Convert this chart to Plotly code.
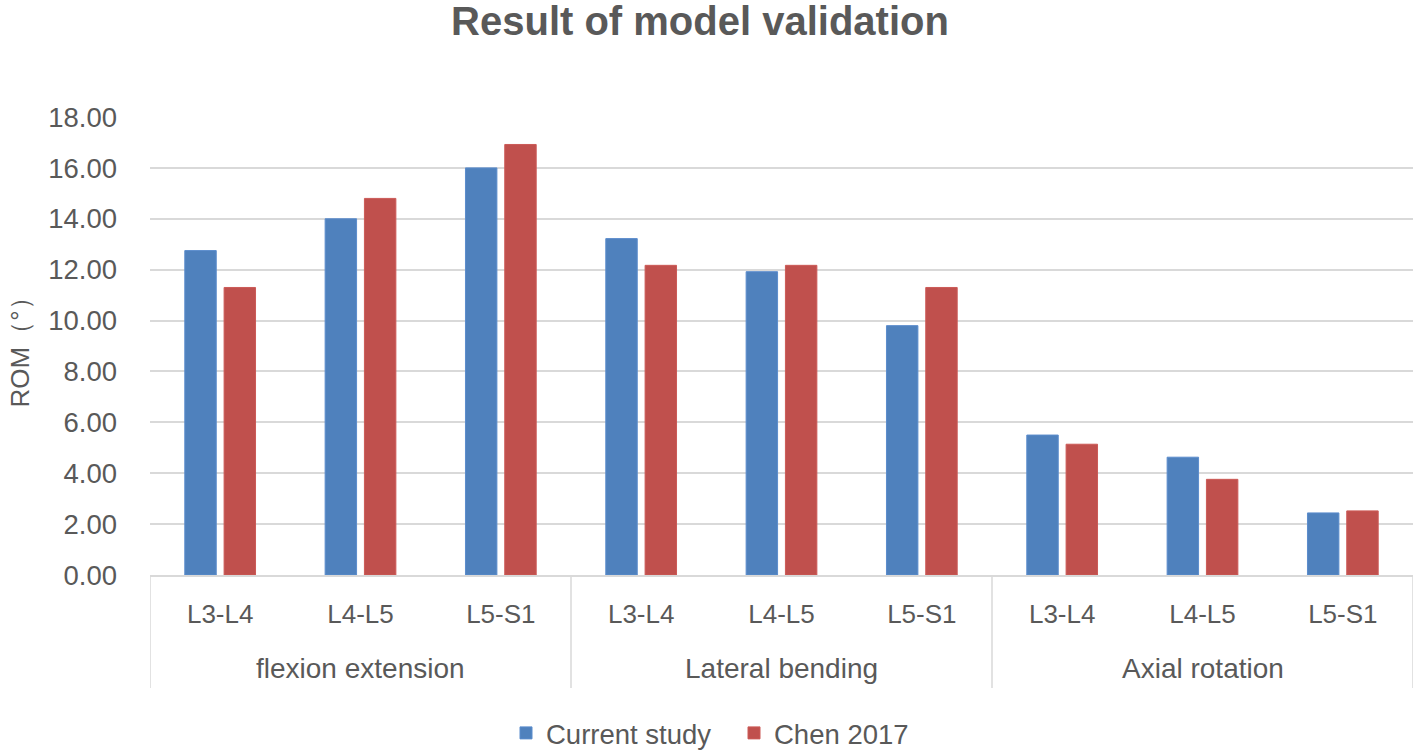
import plotly.graph_objects as go

groups = ["flexion extension", "Lateral bending", "Axial rotation"]
levels = ["L3-L4", "L4-L5", "L5-S1"]
current_study = [12.75, 14.0, 16.0, 13.22, 11.92, 9.80, 5.50, 4.63, 2.44]
chen_2017 = [11.30, 14.80, 16.92, 12.17, 12.17, 11.30, 5.14, 3.76, 2.52]
y_ticks = [0, 2, 4, 6, 8, 10, 12, 14, 16, 18]

FONT = "Liberation Sans"
GRAY = "#595959"
GRID = "#d9d9d9"

sub_labels = [lv for g in groups for lv in levels]
xpos = list(range(len(sub_labels)))

fig = go.Figure()
fig.add_trace(go.Bar(x=xpos, y=current_study, name="Current study",
                     marker=dict(color="#4F81BD", line=dict(color="#5b8ccc", width=1))))
fig.add_trace(go.Bar(x=xpos, y=chen_2017, name="Chen 2017",
                     marker=dict(color="#C0504D", line=dict(color="#cc5a57", width=1))))

plot_h = 750 - 117 - 175
plot_w = 1416 - 150 - 3

shapes = []
n = len(levels)
for k in range(len(groups) + 1):
    xb = k * n - 0.5
    shapes.append(dict(type="line", xref="x", yref="paper", x0=xb, x1=xb,
                       y0=0, y1=-(688 - 575) / plot_h,
                       line=dict(color=GRID, width=1.5)))

annotations = []
for k, g in enumerate(groups):
    annotations.append(dict(text=g, xref="x", yref="paper", x=k * n + (n - 1) / 2,
                            y=0, yshift=-93, yanchor="middle", showarrow=False,
                            font=dict(family=FONT, size=28, color=GRAY)))

fig.update_layout(
    width=1416, height=750,
    margin=dict(l=150, r=3, t=117, b=175, autoexpand=False),
    paper_bgcolor="white", plot_bgcolor="white",
    title=dict(text="<b>Result of model validation</b>", x=700 / 1416, xanchor="center",
               y=1 - 21 / 750, yanchor="middle",
               font=dict(family=FONT, size=40, color=GRAY)),
    barmode="group", bargap=0.44, bargroupgap=0.2,
    showlegend=True,
    legend=dict(orientation="h", x=(734 - 150) / plot_w, xanchor="center", yref="paper",
                y=(575 - 733) / plot_h, yanchor="middle", entrywidth=183,
                font=dict(family=FONT, size=27.5, color=GRAY), traceorder="normal"),
    xaxis=dict(tickmode="array", tickvals=xpos, ticktext=sub_labels,
               range=[-0.5, len(xpos) - 0.5], showgrid=False, zeroline=False,
               showline=True, linecolor=GRID, linewidth=1.5, automargin=False,
               ticks="", ticklabelstandoff=15,
               tickfont=dict(family=FONT, size=26, color=GRAY)),
    yaxis=dict(range=[0, 18], tickmode="array", tickvals=y_ticks,
               ticktext=[f"{v:.2f}" for v in y_ticks], automargin=False,
               showgrid=True, gridcolor=GRID, gridwidth=1.5, zeroline=False,
               showline=False, ticks="", ticklabelstandoff=32,
               tickfont=dict(family=FONT, size=27.5, color=GRAY),
               title=dict(text="ROM（°）", standoff=11,
                          font=dict(family=FONT, size=26, color=GRAY))),
    shapes=shapes, annotations=annotations,
)

fig.write_html("out.html", config={"displayModeBar": False},
               post_script="document.body.style.margin='0';")
